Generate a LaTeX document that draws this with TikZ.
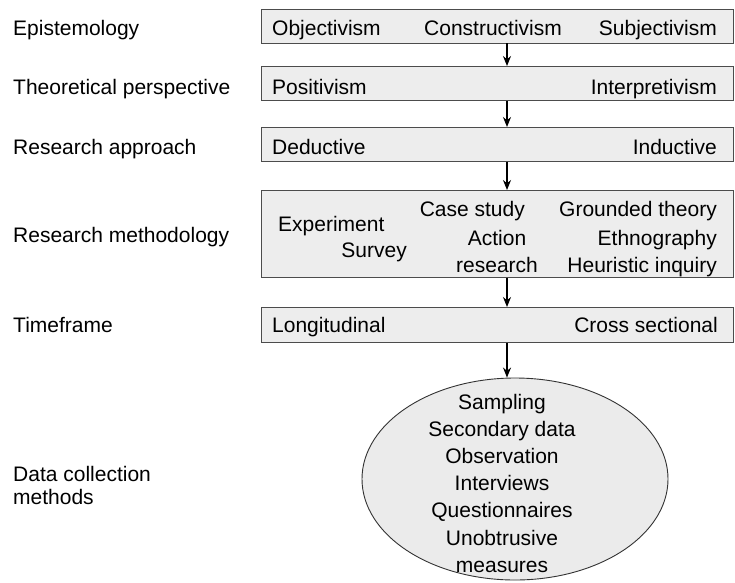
\documentclass[tikz,border=0pt]{standalone}
\usepackage{fontspec}
\setmainfont{Liberation Sans}
\usetikzlibrary{shapes.geometric,arrows.meta}
\begin{document}
\begin{tikzpicture}[x=1pt,y=-1pt,
  txt/.style={inner sep=0pt,font=\fontsize{21}{27}\selectfont},
  boxst/.style={draw=black!70,fill=black!7,line width=0.9pt,rectangle,inner sep=0pt,anchor=north west},
  ellst/.style={draw=black!80,fill=black!8,line width=0.9pt,ellipse,inner sep=0pt},
  arr/.style={line width=1.2pt,-{Stealth[length=10pt,width=8pt]}}]
\useasboundingbox[fill=white] (0,0) rectangle (735,582);
% boxes
\node[boxst,minimum width=472,minimum height=33.5] (b1) at (261,9) {};
\node[boxst,minimum width=472,minimum height=34] (b2) at (261,66) {};
\node[boxst,minimum width=472,minimum height=34] (b3) at (261,127) {};
\node[boxst,minimum width=472,minimum height=87] (b4) at (261,190) {};
\node[boxst,minimum width=472,minimum height=35] (b5) at (261,307) {};
\node[ellst,minimum width=306,minimum height=202] (ell) at (515,479) {};
% left labels
\node[txt,anchor=base west] (l1) at (13,35) {Epistemology};
\node[txt,anchor=base west] (l2) at (13,94) {Theoretical perspective};
\node[txt,anchor=base west] (l3) at (13,154) {Research approach};
\node[txt,anchor=base west] (l4) at (13,242) {Research methodology};
\node[txt,anchor=base west] (l5) at (13,332) {Timeframe};
\node[txt,anchor=base west] (l6a) at (13,481) {Data collection};
\node[txt,anchor=base west] (l6b) at (13,504) {methods};
% box 1
\node[txt,anchor=base west] (t11) at (272,35) {Objectivism};
\node[txt,anchor=base] (t12) at (493,35) {Constructivism};
\node[txt,anchor=base east] (t13) at (717,35) {Subjectivism};
% box 2
\node[txt,anchor=base west] (t21) at (272,94) {Positivism};
\node[txt,anchor=base east] (t22) at (717,94) {Interpretivism};
% box 3
\node[txt,anchor=base west] (t31) at (272,154) {Deductive};
\node[txt,anchor=base east] (t32) at (717,154) {Inductive};
% box 4
\node[txt,anchor=base west] (t41) at (278,231) {Experiment};
\node[txt,anchor=base east] (t42) at (407,257) {Survey};
\node[txt,anchor=base east] (t43) at (525,216) {Case study};
\node[txt,anchor=base] (t44) at (497,245) {Action};
\node[txt,anchor=base] (t45) at (497,272) {research};
\node[txt,anchor=base east] (t46) at (717,216) {Grounded theory};
\node[txt,anchor=base east] (t47) at (717,245) {Ethnography};
\node[txt,anchor=base east] (t48) at (717,272) {Heuristic inquiry};
% box 5
\node[txt,anchor=base west] (t51) at (272,332) {Longitudinal};
\node[txt,anchor=base east] (t52) at (718,332) {Cross sectional};
% ellipse text
\foreach \i/\t [count=\k from 0] in {1/Sampling,2/Secondary data,3/Observation,4/Interviews,5/Questionnaires,6/Unobtrusive,7/measures}
  \node[txt,anchor=base] (e\i) at (502,409+27.2*\k) {\t};
% arrows
\coordinate (ax) at (507,0);
\draw[arr] (b1.south -| ax) -- (b2.north -| ax);
\draw[arr] (b2.south -| ax) -- (b3.north -| ax);
\draw[arr] (b3.south -| ax) -- (b4.north -| ax);
\draw[arr] (b4.south -| ax) -- (b5.north -| ax);
\draw[arr] (b5.south -| ax) -- (ax |- ell.north);
\end{tikzpicture}
\end{document}
